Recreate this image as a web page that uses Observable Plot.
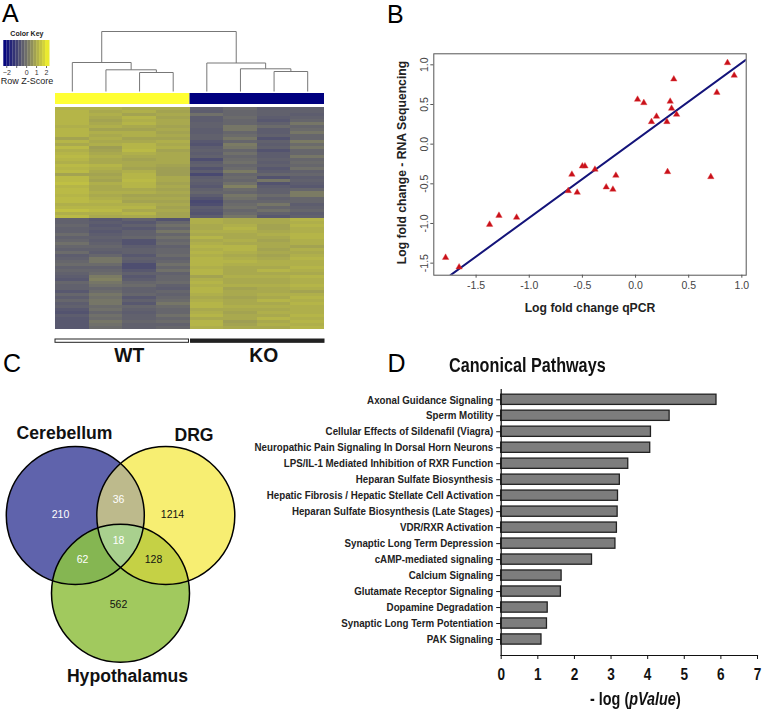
<!DOCTYPE html>
<html><head><meta charset="utf-8">
<script src="https://cdn.jsdelivr.net/npm/d3@7"></script>
<script src="https://cdn.jsdelivr.net/npm/@observablehq/plot@0.6"></script>
<style>
html,body{margin:0;padding:0;background:#fff}
#page{position:relative;width:762px;height:711px;overflow:hidden;font-family:"Liberation Sans",Arial,sans-serif}
#page svg{position:absolute;left:0;top:0}
.lab{position:absolute;white-space:nowrap;line-height:1;transform-origin:left center}
</style></head><body><div id="page"></div>
<script>
// ---------- Panel A: heatmap (row z-scores, estimated per ~3px row band) ----------
const sampleNames = ["WT1","WT2","WT3","WT4","KO1","KO2","KO3","KO4"];
const WT1 = [1.1,1.2,1.2,1.2,1.2,1.2,1.1,1.2,1.2,1.2,0.9,1.2,1.0,1.3,1.1,1.2,1.3,1.2,1.1,1.3,1.2,1.3,0.9,1.3,1.3,1.4,1.2,1.3,1.3,1.2,1.3,1.3,1.1,1.2,1.4,1.1,1.3,
 -0.3,-0.3,-0.2,-0.3,-0.3,-0.1,-0.3,-0.2,0.0,-0.2,-0.3,-0.1,-0.4,-0.3,-0.2,-0.1,-0.3,-0.2,-0.3,-0.4,-0.5,-0.2,-0.3,-0.3,-0.5,-0.2,-0.4,-0.2,-0.4,-0.3,-0.5,-0.6,-0.4,-0.5,-0.5,-0.5,-0.5];
const WT2 = [1.1,1.0,1.1,1.0,0.9,1.0,1.1,0.9,1.1,1.0,1.1,1.0,1.1,0.8,0.9,1.0,1.1,1.0,1.0,1.2,1.1,1.0,0.9,1.0,0.9,1.1,1.0,1.0,1.1,1.0,1.1,1.2,1.1,1.2,1.3,1.1,1.0,
 -0.5,-0.4,-0.5,-0.4,-0.5,-0.4,-0.3,-0.4,-0.3,-0.2,-0.3,-0.4,-0.2,0.1,0.1,-0.1,-0.3,-0.2,-0.1,0.2,0.3,0.1,0.0,-0.2,-0.1,0.1,0.0,0.1,0.1,-0.1,0.0,-0.2,0.0,-0.1,0.1,0.0,-0.1];
const WT3 = [1.0,1.1,0.9,1.2,1.1,1.2,1.0,0.9,1.1,1.1,0.9,1.0,1.2,1.2,1.3,1.1,1.0,0.9,1.0,1.0,0.9,1.1,1.2,1.2,1.3,1.2,1.2,1.0,1.1,0.9,1.0,0.9,1.1,1.2,1.0,1.2,1.0,
 -0.3,-0.5,-0.3,-0.5,-0.3,-0.3,-0.2,-0.6,-0.6,-0.4,-0.3,-0.3,-0.5,-0.3,-0.4,-0.7,-0.7,-0.5,-0.3,-0.5,-0.4,-0.2,-0.1,-0.3,-0.3,-0.2,-0.5,-0.3,-0.5,-0.2,-0.3,-0.4,-0.3,-0.3,-0.2,-0.3,-0.3];
const WT4 = [1.0,0.9,1.0,0.9,1.0,1.0,0.9,1.0,0.9,1.0,0.9,1.1,1.0,1.1,0.9,1.0,1.0,1.0,1.0,0.9,0.8,0.8,0.8,1.0,1.0,0.9,1.0,0.9,1.0,0.9,1.0,0.9,1.0,0.9,1.0,0.9,0.9,
 -0.6,-0.2,0.0,-0.2,0.1,-0.2,0.0,-0.2,-0.1,-0.3,-0.2,-0.2,-0.1,-0.3,-0.2,0.0,-0.2,0.0,-0.3,-0.2,-0.2,-0.1,-0.3,-0.4,-0.2,-0.3,-0.2,-0.1,0.1,-0.1,-0.2,-0.2,0.0,-0.2,-0.1,-0.3,-0.2];
const KO1 = [-0.3,-0.4,0.0,-0.4,-0.4,-0.3,-0.3,-0.4,-0.4,-0.3,-0.3,-0.5,-0.6,-0.4,-0.3,-0.4,-0.3,-0.7,-0.4,-0.3,-0.6,-0.4,-0.8,-0.4,-0.3,-0.4,-0.5,-0.3,-0.2,-0.4,-0.6,-0.8,-0.7,-0.4,-0.5,-0.6,-0.4,
 1.1,1.1,1.0,1.0,1.1,1.0,1.2,1.0,1.1,1.2,1.1,1.2,1.1,1.2,1.2,1.2,1.1,1.2,1.2,0.9,1.1,1.2,1.1,1.2,1.2,1.1,1.0,1.1,1.2,1.2,1.0,1.1,1.2,1.0,1.2,1.2,1.1];
const KO2 = [-0.1,-0.2,-0.2,-0.1,-0.2,-0.2,0.1,0.1,-0.2,-0.1,0.1,-0.2,0.2,0.1,-0.2,0.0,-0.2,-0.1,0.0,-0.2,-0.1,0.2,-0.2,-0.1,-0.2,0.0,0.3,-0.1,-0.2,0.1,0.0,-0.2,-0.1,0.0,-0.2,-0.1,0.1,
 1.0,1.0,1.1,1.2,1.1,1.0,1.0,1.1,1.0,1.2,1.2,1.1,1.0,1.1,1.2,1.1,1.0,1.0,1.0,1.1,1.0,1.0,1.1,0.9,1.0,1.0,0.9,1.0,1.0,1.1,1.0,0.9,1.0,1.0,0.8,0.9,1.0];
const KO3 = [-0.4,-0.3,-0.3,-0.4,-0.5,-0.3,-0.1,-0.4,-0.4,-0.3,-0.6,-0.3,-0.4,-0.3,-0.6,-0.4,-0.4,-0.3,-0.4,-0.3,-0.5,-0.4,-0.2,-0.6,0.1,-0.6,-0.4,-0.3,-0.3,-0.1,-0.3,-0.2,0.1,-0.2,0.0,-0.3,-0.5,
 1.0,1.0,0.9,0.9,1.0,1.1,1.0,0.9,1.0,1.0,0.9,1.0,0.9,1.0,1.1,1.1,1.0,1.2,1.0,1.1,1.0,1.0,1.1,1.0,1.0,1.1,1.0,1.2,1.0,1.1,1.0,1.1,1.0,1.2,1.0,1.1,1.0];
const KO4 = [-0.3,-0.3,-0.4,-0.3,-0.2,0.1,-0.2,-0.1,0.1,-0.2,-0.2,0.2,-0.1,0.1,-0.2,-0.2,0.1,-0.2,-0.1,-0.2,0.0,-0.3,-0.2,-0.4,-0.3,-0.4,-0.5,-0.2,0.2,0.2,-0.2,-0.2,-0.4,-0.3,-0.2,-0.4,-0.3,
 1.2,1.1,1.2,1.1,1.1,1.2,1.2,1.1,1.1,0.9,1.1,1.0,1.1,1.2,1.1,1.1,1.2,1.1,1.0,1.2,1.1,1.1,1.2,1.1,0.9,1.1,1.2,1.1,1.2,1.1,1.1,1.1,1.2,1.1,1.2,1.1,1.2];
const heatColumns = [WT1,WT2,WT3,WT4,KO1,KO2,KO3,KO4];
const keyBreaks = [-2.3,-2.0,-1.7,-1.4,-1.1,-0.8,-0.5,-0.2,0.1,0.4,0.7,1.0,1.3,1.6,1.9,2.35];
const keyTicks = [-2,-1,0,1,2];
const keyTickText = ["−2","","0","1","2"];
// dendrogram: merges of leaves (1-8) or earlier merges ("m#"), with heights
const merges = [
 {id:"m1",a:3,b:4,h:19},{id:"m2",a:2,b:"m1",h:21.7},{id:"m3",a:1,b:"m2",h:29},
 {id:"m4",a:7,b:8,h:20},{id:"m5",a:6,b:"m4",h:22.7},{id:"m6",a:5,b:"m5",h:28.5},
 {id:"root",a:"m3",b:"m6",h:60}];
const groupNames = ["WT","KO"];

// ---------- Panel B: qPCR vs RNA-seq ----------
const qPCR = [-1.787,-1.66,-1.373,-1.285,-1.119,-0.633,-0.549,-0.599,-0.50,-0.476,-0.382,-0.276,-0.213,-0.185,0.019,0.078,0.15,0.197,0.295,0.301,0.326,0.339,0.36,0.386,0.708,0.765,0.865,0.928];
const rnaSeq = [-1.43,-1.55,-1.013,-0.90,-0.924,-0.588,-0.609,-0.382,-0.277,-0.277,-0.319,-0.542,-0.571,-0.395,0.563,0.521,0.282,0.349,0.282,-0.349,0.538,0.45,0.819,0.374,-0.412,0.651,1.025,0.866];
const fitX = [-1.74,1.038];
const fitY = [-1.651,1.063];
const bTicks = [-1.5,-1.0,-0.5,0.0,0.5,1.0];

// ---------- Panel C: Venn ----------
const vennSets = ["Cerebellum","DRG","Hypothalamus"];
const vennCounts = [210,1214,562,36,62,128,18];
const vennCountText = vennCounts.map(String);

// ---------- Panel D: pathways ----------
const pathways = ["Axonal Guidance Signaling","Sperm Motility","Cellular Effects of Sildenafil (Viagra)","Neuropathic Pain Signaling In Dorsal Horn Neurons","LPS/IL-1 Mediated Inhibition of RXR Function","Heparan Sulfate Biosynthesis","Hepatic Fibrosis / Hepatic Stellate Cell Activation","Heparan Sulfate Biosynthesis (Late Stages)","VDR/RXR Activation","Synaptic Long Term Depression","cAMP-mediated signaling","Calcium Signaling","Glutamate Receptor Signaling","Dopamine Degradation","Synaptic Long Term Potentiation","PAK Signaling"];
const minusLogP = [5.88,4.60,4.09,4.07,3.47,3.24,3.19,3.18,3.16,3.12,2.48,1.65,1.63,1.27,1.25,1.10];

// ---------- helpers ----------
const W = 762, H = 711;
const page = document.getElementById("page");
const SANS = '"Liberation Sans",Arial,sans-serif';
function panel(box, opts){ // box = pixel frame on the page
  const p = Plot.plot({width:W,height:H,
    marginLeft:box[0],marginTop:box[1],marginRight:W-box[2],marginBottom:H-box[3],
    style:{background:"transparent",fontFamily:SANS,overflow:"visible"},...opts});
  page.appendChild(p); return p;
}
function label(text,left,baseline,size,css=""){
  const d=document.createElement("div");d.className="lab";d.innerHTML=text;
  d.style.cssText=`left:${left}px;top:${baseline-size*0.83}px;font-size:${size}px;${css}`;
  page.appendChild(d);
}
function squeeze(svg,selector,factor){ // condensed look: no narrow face is installed
  svg.querySelectorAll(selector).forEach(t=>{
    t.setAttribute("textLength",t.getComputedTextLength()*factor);
    t.setAttribute("lengthAdjust","spacingAndGlyphs");
  });
}
const heatColor = {type:"linear",domain:[-2.3,0,2.5],range:["#00007f","#70706a","#ffff24"],interpolate:"rgb"};

// Panel letters
label("A",2,22,25); label("B",387,22.5,25); label("C",3,372,25); label("D",387.5,372,25);

// A: key
panel([3.3,40,49.5,66],{
  x:{domain:[-2.3,2.35]},y:{axis:null},color:heatColor,
  marks:[
    Plot.rectX(keyBreaks.slice(0,-1).map((b,i)=>({x1:b,x2:keyBreaks[i+1],z:(b+keyBreaks[i+1])/2})),{x1:"x1",x2:"x2",fill:"z"}),
    Plot.axisX({ticks:keyTicks,tickSize:2,tickPadding:2,tickFormat:(d,i)=>keyTickText[keyTicks.indexOf(d)],fontSize:7,label:null,stroke:"#666",color:"#333"}),
    Plot.text(["Color Key"],{frameAnchor:"top",dy:-9,fontWeight:"bold",fontSize:7,fill:"#222"}),
    Plot.text(["Row Z-Score"],{frameAnchor:"bottom",dy:17,fontSize:9,fill:"#222"})
  ]});

// A: dendrogram
const pos = {};
for(let i=1;i<=8;i++) pos[i]={x:i-0.5,h:0};
const segs=[];
for(const m of merges){
  const a=pos[m.a],b=pos[m.b];
  segs.push({x1:a.x,y1:a.h,x2:a.x,y2:m.h},{x1:a.x,y1:m.h,x2:b.x,y2:m.h},{x1:b.x,y1:b.h,x2:b.x,y2:m.h});
  pos[m.id]={x:(a.x+b.x)/2,h:m.h};
}
panel([55,31,324,91],{x:{domain:[0,8],axis:null},y:{domain:[0,60],axis:null},
  marks:[Plot.link(segs,{x1:"x1",y1:"y1",x2:"x2",y2:"y2",stroke:"#777",strokeWidth:1})]});

// A: group side bar
panel([55,93,324,104],{x:{domain:[0,8],axis:null},y:{axis:null},
  marks:[Plot.rectX(groupNames.map((g,i)=>({g,x1:i*4,x2:i*4+4})),{x1:"x1",x2:"x2",fill:d=>d.g==="WT"?"#ffff33":"#00007f"})]});

// A: heat cells
const heatRows = d3.range(WT1.length);
const heatTable = heatColumns.flatMap((col,c)=>col.map((z,r)=>({col:sampleNames[c],row:r,z})));
const heat = panel([55,106.7,324,329],{
  x:{type:"band",domain:sampleNames,padding:0,round:false,axis:null},
  y:{type:"band",domain:heatRows,padding:0,round:false,axis:null},
  color:heatColor,
  marks:[Plot.cell(heatTable,{x:"col",y:"row",fill:"z",shapeRendering:"crispEdges"})]});
heat.style.filter="blur(0.5px)";

// A: WT / KO bars and labels
panel([55,339,324,342.3],{x:{domain:[0,8],axis:null},y:{domain:[0,1],axis:null},
  marks:[
    Plot.rect([{x1:0,x2:3.97}],{x1:"x1",x2:"x2",y1:0,y2:1,fill:"#fff",stroke:"#222",strokeWidth:1}),
    Plot.rect([{x1:4.03,x2:8}],{x1:"x1",x2:"x2",y1:0,y2:1,fill:"#222",stroke:"#222",strokeWidth:1}),
    Plot.text(groupNames,{x:(d,i)=>2+i*4,y:0,dy:19,dx:6.5,lineAnchor:"bottom",fontSize:19.3,fontWeight:"bold",fill:"#111"})
  ]});

// B
const points = qPCR.map((x,i)=>({x,y:rnaSeq[i]}));
const fit = fitX.map((x,i)=>({x,y:fitY[i]}));
panel([433.3,53.3,745.7,274.7],{
  x:{domain:[-1.898,1.041]},y:{domain:[-1.652,1.139]},
  marks:[
    Plot.line(fit,{x:"x",y:"y",stroke:"#14147a",strokeWidth:2,clip:true}),
    Plot.dot(points,{x:"x",y:"y",symbol:"triangle",r:2.4,fill:"#c8101a",stroke:"#e04040",strokeWidth:0.4,clip:true}),
    Plot.frame({stroke:"#555",strokeWidth:1}),
    Plot.axisX({ticks:bTicks,tickSize:3,tickPadding:3,tickFormat:d=>d.toFixed(1),fontSize:10.5,label:null,stroke:"#555",color:"#444"}),
    Plot.axisY({ticks:bTicks,tickSize:3,tickPadding:3,tickRotate:-90,tickFormat:d=>d.toFixed(1),fontSize:10.5,label:null,stroke:"#555",color:"#444"}),
    Plot.text(["Log fold change qPCR"],{frameAnchor:"bottom",dy:37,lineAnchor:"bottom",fontWeight:"bold",fontSize:12.2,fill:"#222"}),
    Plot.text(["Log fold change - RNA Sequencing"],{frameAnchor:"left",textAnchor:"middle",dx:-28,dy:-2,rotate:-90,lineAnchor:"bottom",fontWeight:"bold",fontSize:12.2,fill:"#222"})
  ]});

// C: Venn
const R = 69;
const circles = [
  {name:vennSets[0],cx:74.8,cy:515,fill:"#5f63ac"},
  {name:vennSets[1],cx:165.3,cy:515,fill:"#f7ee72"},
  {name:vennSets[2],cx:120,cy:592.8,fill:"#a1c95e"}];
const inCircle=(p,c)=>Math.hypot(p.x-c.cx,p.y-c.cy)<=R+0.01;
function region(members){ // convex intersection outline sampled from the circles
  const cs=members.map(i=>circles[i]);
  const pts=[];
  for(const c of cs) for(let a=0;a<720;a++){
    const p={x:c.cx+R*Math.cos(a*Math.PI/360),y:c.cy+R*Math.sin(a*Math.PI/360)};
    if(cs.every(o=>inCircle(p,o))) pts.push(p);
  }
  const mx=d3.mean(pts,d=>d.x),my=d3.mean(pts,d=>d.y);
  pts.sort((p,q)=>Math.atan2(p.y-my,p.x-mx)-Math.atan2(q.y-my,q.x-mx));
  return pts;
}
const lenses=[{m:[0,1],fill:"#bdba8c"},{m:[0,2],fill:"#85b652"},{m:[1,2],fill:"#c5d145"},{m:[0,1,2],fill:"#a9d08e"}];
const vennLabels=[
 {x:60,y:514.5,c:"#fff"},{x:172,y:514.5,c:"#111"},{x:118,y:604,c:"#111"},
 {x:118,y:499.5,c:"#fff"},{x:82,y:559,c:"#fff"},{x:153,y:559,c:"#111"},{x:118,y:540,c:"#fff"}]
 .map((d,i)=>({...d,t:vennCountText[i]}));
const nameLabels=[{t:vennSets[0],x:64,y:433},{t:vennSets[1],x:193.5,y:435},{t:vennSets[2],x:127,y:676}];
panel([0,0,W,H],{x:{domain:[0,W],axis:null},y:{domain:[0,H],axis:null,reverse:false,range:[0,H]},
  marks:[
    ...[2,0,1].map(i=>Plot.dot([circles[i]],{x:"cx",y:"cy",r:R,fill:circles[i].fill})),
    ...lenses.map(l=>Plot.line(region(l.m),{x:"x",y:"y",fill:l.fill,stroke:null,curve:"linear-closed"})),
    Plot.dot(circles,{x:"cx",y:"cy",r:R,stroke:"#000",strokeWidth:1.5,fill:"none"}),
    Plot.text(vennLabels,{x:"x",y:"y",text:"t",fill:"c",fontSize:10.5}),
    Plot.text(nameLabels,{x:"x",y:"y",text:"t",fontSize:17.6,fontWeight:"bold",fill:"#111"})
  ]});

// D
const bars = pathways.map((p,i)=>({p,v:minusLogP[i]}));
const dPlot = panel([500.7,389,757,655],{
  x:{domain:[0,7],range:[500.7,757]},
  y:{type:"band",domain:pathways,range:[391.3,647],paddingInner:0.36,paddingOuter:0.18,round:false},
  marks:[
    Plot.barX(bars,{y:"p",x:"v",fill:"#7d7d7d",stroke:"#222",strokeWidth:1.3}),
    Plot.frame({anchor:"left",stroke:"#111",strokeWidth:1.2}),
    Plot.frame({anchor:"bottom",stroke:"#111",strokeWidth:1.2}),
    Plot.axisY({tickSize:4.5,tickPadding:3.5,label:null,fontWeight:"bold",fontSize:11.6,stroke:"#111",color:"#222"}),
    Plot.axisX({ticks:[0,1,2,3,4,5,6,7],tickSize:4,tickPadding:8,tickFormat:d3.format("d"),label:null,fontWeight:"bold",fontSize:17,stroke:"#111",color:"#111"})
  ]});
squeeze(dPlot,'g[aria-label="y-axis tick label"] text',0.84);
squeeze(dPlot,'g[aria-label="x-axis tick label"] text',0.8);
label("Canonical Pathways",449.3,372,20,"font-weight:bold;color:#111;transform:scaleX(.81)");
label("- log (<i>pValue</i>)",590,705,18,"font-weight:bold;color:#111;transform:scaleX(.8)");
</script></body></html>
